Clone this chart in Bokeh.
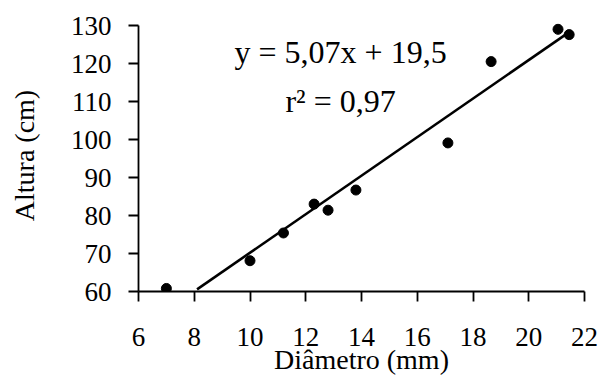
from bokeh.plotting import figure
from bokeh.models import FixedTicker, Label, Range1d
from bokeh.embed import file_html
from bokeh.resources import INLINE

# Data
diametro = [7.0, 10.0, 11.2, 12.3, 12.8, 13.8, 17.1, 18.65, 21.05, 21.45]
altura = [60.8, 68.1, 75.4, 83.0, 81.4, 86.7, 99.1, 120.5, 129.0, 127.6]
slope = 5.07
intercept = 19.5
fit_x = [8.1, 21.45]
x_ticks = [6, 8, 10, 12, 14, 16, 18, 20, 22]
y_ticks = [60, 70, 80, 90, 100, 110, 120, 130]
eq_text = "y = 5,07x + 19,5"
r2_text = "r² = 0,97"
x_title = "Diâmetro (mm)"
y_title = "Altura (cm)"

FONT = "Liberation Serif"
W, H = 601, 377

p = figure(width=W, height=H, output_backend="svg", toolbar_location=None,
           x_range=Range1d(6, 22), y_range=Range1d(60, 131.58),
           min_border_left=138, min_border_right=17, min_border_top=19, min_border_bottom=86)
p.outline_line_color = None
p.xgrid.visible = False
p.ygrid.visible = False
p.background_fill_color = "white"
p.border_fill_color = "white"

fit_y = [slope * x + intercept for x in fit_x]
p.line(fit_x, fit_y, line_color="black", line_width=2.6)
p.scatter(diametro, altura, size=10, fill_color="black", line_color="black")

for ax in (p.xaxis[0], p.yaxis[0]):
    ax.axis_line_color = "black"
    ax.axis_line_width = 1.8
    ax.major_tick_line_color = "black"
    ax.major_tick_line_width = 1.8
    ax.major_tick_in = 0
    ax.major_tick_out = 10
    ax.minor_tick_line_color = None
    ax.major_label_text_font = FONT
    ax.major_label_text_font_size = "27px"
    ax.major_label_text_color = "black"
    ax.axis_label_text_font = FONT
    ax.axis_label_text_font_style = "normal"
    ax.axis_label_text_color = "black"
    ax.axis_label_text_font_size = "28px"

p.xaxis[0].ticker = FixedTicker(ticks=x_ticks)
p.yaxis[0].ticker = FixedTicker(ticks=y_ticks)
p.yaxis[0].bounds = (60, 130)
p.xaxis[0].axis_label = x_title
p.yaxis[0].axis_label = y_title
p.xaxis[0].major_label_standoff = 26
p.xaxis[0].axis_label_standoff = -5
p.yaxis[0].major_label_standoff = 17
p.yaxis[0].axis_label_standoff = 28

p.add_layout(Label(x=13.25, y=122.9, text=eq_text, text_font=FONT, text_font_size="32px",
                   text_align="center", text_baseline="alphabetic", text_color="black"))
p.add_layout(Label(x=13.25, y=110.2, text=r2_text, text_font=FONT, text_font_size="32px",
                   text_align="center", text_baseline="alphabetic", text_color="black"))

open("out.html", "w").write(file_html(p, INLINE))
